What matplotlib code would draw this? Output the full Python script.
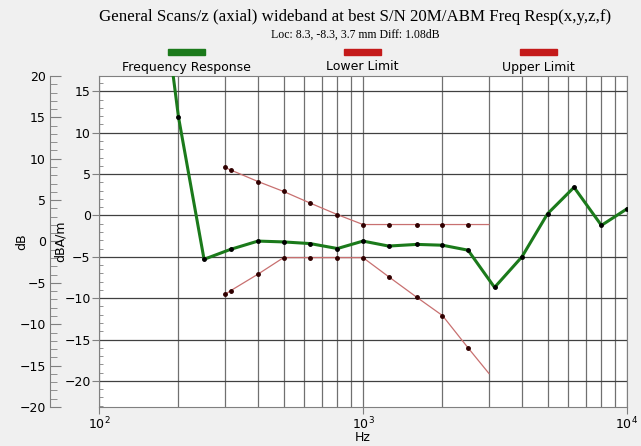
import matplotlib
matplotlib.use("Agg")
import matplotlib.pyplot as plt
from matplotlib.ticker import MultipleLocator, LogLocator, NullFormatter
from matplotlib.patches import Rectangle

# frequency response (dBA/m)
resp_freq = [160, 200, 250, 315, 400, 500, 630, 800, 1000, 1250, 1600, 2000,
             2500, 3150, 4000, 5000, 6300, 8000, 10000]
resp_val = [36, 11.9, -5.3, -4.1, -3.1, -3.2, -3.4, -4.0, -3.1, -3.7, -3.5, -3.6,
            -4.2, -8.7, -5.0, 0.2, 3.4, -1.2, 0.8]

limit_freq = [300, 315, 400, 500, 630, 800, 1000, 1250, 1600, 2000, 2500, 3000]
upper_val = [5.8, 5.5, 4.1, 2.9, 1.5, 0.1, -1.1, -1.1, -1.1, -1.1, -1.1, -1.1]
lower_val = [-9.55, -9.1, -7.1, -5.1, -5.1, -5.1, -5.1, -7.4, -9.9, -12.1, -16.0, -19.1]

offset = 3.15  # dB = dBA/m + offset

green = "#1b7a1b"
red = "#c41a1a"
limit_col = "#c87070"

fig = plt.figure(figsize=(6.41, 4.46), dpi=100, facecolor="#f0f0f0")
ax = fig.add_axes([99/641, 1-407/446, 528/641, 331/446])
ax.set_facecolor("white")

ax.set_xscale("log")
ax.set_xlim(100, 10000)
ax.set_ylim(-20 - offset, 20 - offset)

ax.plot(limit_freq, upper_val, color=limit_col, lw=0.9, marker="o", ms=2.5,
        mfc="#300000", mec="#300000", markevery=list(range(len(limit_freq) - 1)))
ax.plot(limit_freq, lower_val, color=limit_col, lw=0.9, marker="o", ms=2.5,
        mfc="#300000", mec="#300000", markevery=list(range(len(limit_freq) - 1)))
ax.plot(resp_freq, resp_val, color=green, lw=2.2, marker="o", ms=2.5,
        mfc="black", mec="black", zorder=5)

# grid
ax.yaxis.set_major_locator(MultipleLocator(5))
ax.yaxis.set_minor_locator(MultipleLocator(1))
ax.xaxis.set_major_locator(LogLocator(base=10))
ax.xaxis.set_minor_locator(LogLocator(base=10, subs=range(2, 10)))
ax.xaxis.set_minor_formatter(NullFormatter())
ax.grid(True, which="major", axis="y", color="#404040", lw=0.9)
ax.grid(True, which="both", axis="x", color="#707070", lw=0.9)
ax.set_axisbelow(True)

for s in ax.spines.values():
    s.set_color("#808080")

ax.tick_params(axis="y", which="major", direction="out", length=5, labelsize=9,
               color="#808080", pad=1)
ax.tick_params(axis="y", which="minor", direction="in", length=3, color="#808080")
ax.tick_params(axis="x", which="major", direction="out", length=5, labelsize=9,
               color="#808080", pad=1)
ax.tick_params(axis="x", which="minor", length=0)

ax.set_xlabel("Hz", fontsize=9, labelpad=-1)
ax.set_ylabel("dBA/m", fontsize=9, labelpad=-2)

# outer dB axis
sec = ax.secondary_yaxis((50 - 99) / 528, functions=(lambda y: y + offset,
                                                     lambda y: y - offset))
sec.yaxis.set_major_locator(MultipleLocator(5))
sec.yaxis.set_minor_locator(MultipleLocator(1))
sec.tick_params(axis="y", which="major", direction="in", length=8, labelsize=9,
                color="#808080", pad=3)
sec.tick_params(axis="y", which="minor", direction="in", length=5, color="#808080")
sec.spines["left"].set_color("#808080")
sec.set_ylabel("dB", fontsize=9, labelpad=-6)

# titles
fig.text(0.554, 0.962, "General Scans/z (axial) wideband at best S/N 20M/ABM Freq Resp(x,y,z,f)",
         ha="center", va="center", fontsize=12.2, family="Liberation Serif")
fig.text(0.554, 0.921, "Loc: 8.3, -8.3, 3.7 mm Diff: 1.08dB",
         ha="center", va="center", fontsize=8.5, family="Liberation Serif")

# legend
legend_items = [("Frequency Response", green, 186), ("Lower Limit", red, 362),
                ("Upper Limit", red, 538)]
for label, col, xc in legend_items:
    fig.patches.append(Rectangle(((xc - 18) / 641, 1 - 55 / 446), 37 / 641, 6 / 446,
                                 transform=fig.transFigure, color=col))
    fig.text(xc / 641, 1 - 67 / 446, label, ha="center", va="center", fontsize=9)

fig.savefig("out.png", dpi=100, facecolor=fig.get_facecolor())
